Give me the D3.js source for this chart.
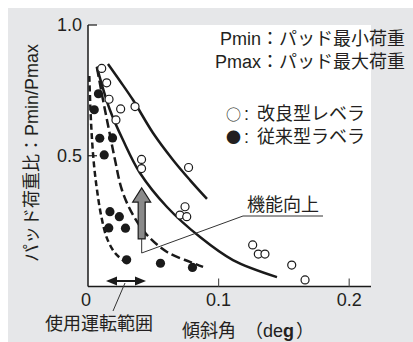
<!DOCTYPE html>
<html><head><meta charset="utf-8">
<script src="https://cdn.jsdelivr.net/npm/d3@7"></script>
<style>
body{margin:0;background:#fff;}
text{font-family:"Liberation Sans",Arial,"Noto Sans CJK JP",sans-serif;fill:#231f20;}
</style></head>
<body>
<script>
// ---- data ----
const improvedPoints = [ // 改良型レベラ (open circles) [deg, ratio]
  [0.0105,0.834],[0.0143,0.779],[0.0161,0.716],[0.0250,0.679],[0.0360,0.688],[0.0214,0.637],
  [0.0410,0.486],[0.0410,0.451],[0.0770,0.455],[0.0743,0.305],[0.0704,0.273],[0.0756,0.267],
  [0.1261,0.159],[0.1304,0.124],[0.1355,0.124],[0.1560,0.082],[0.1662,0.025]
];
const conventionalPoints = [ // 従来型ラベラ (filled circles)
  [0.0080,0.737],[0.0048,0.676],[0.0090,0.567],[0.0188,0.568],[0.0124,0.503],[0.0168,0.286],
  [0.0240,0.267],[0.0159,0.224],[0.0287,0.223],[0.0296,0.102],[0.0555,0.089],[0.0800,0.073]
];
const improvedUpper = [[0.0153,0.851],[0.0245,0.786],[0.0345,0.713],[0.0498,0.587],[0.0651,0.484],[0.0781,0.407],[0.0911,0.335]];
const improvedLower = [[0.0067,0.841],[0.0168,0.675],[0.0268,0.560],[0.0398,0.434],[0.0605,0.304],[0.0858,0.189],[0.1110,0.101],[0.1447,0.036]];
const conventionalUpper = [[0.0069,0.836],[0.0115,0.713],[0.0161,0.598],[0.0207,0.484],[0.0260,0.369],[0.0345,0.273],[0.0452,0.197],[0.0605,0.132],[0.0781,0.094],[0.0881,0.075]];
const conventionalLower = [[0.0010,0.805],[0.0019,0.675],[0.0031,0.560],[0.0046,0.465],[0.0069,0.369],[0.0100,0.273],[0.0145,0.185],[0.0207,0.128],[0.0283,0.094]];
const xTicks = [0, 0.1, 0.2];
const xTickLabels = ["0", "0.1", "0.2"];
const yTicks = [0.5, 1.0];
const yTickLabels = ["0.5", "1.0"];
const improveArrow = {x:0.0411, base:0.182, headBase:0.323, tip:0.377};
const rangeArrow = {y:0.021, x0:0.0138, x1:0.0444};

// ---- chart ----
const W=413,H=342;
const svg=d3.select("body").append("svg").attr("width",W).attr("height",H);
svg.append("rect").attr("x",8).attr("y",8).attr("width",W-8).attr("height",H-8).attr("fill","#e6e7e9");
const x=d3.scaleLinear().domain([0,0.2167]).range([88,371]);
const y=d3.scaleLinear().domain([0,1]).range([286.5,25]);
svg.append("rect").attr("x",x(0)).attr("y",y(1)).attr("width",x(0.2167)-x(0)).attr("height",y(0)-y(1)).attr("fill","#fff");

const ink="#1a1a1a";
// axes
svg.append("line").attr("x1",x(0)).attr("x2",x(0)).attr("y1",y(1)).attr("y2",y(0)).attr("stroke",ink).attr("stroke-width",1.5);
svg.append("line").attr("x1",x(0)).attr("x2",x(0.2167)).attr("y1",y(0)).attr("y2",y(0)).attr("stroke",ink).attr("stroke-width",1.5);
yTicks.forEach((v,i)=>{
  svg.append("line").attr("x1",x(0)).attr("x2",x(0)+9).attr("y1",y(v)).attr("y2",y(v)).attr("stroke",ink).attr("stroke-width",1.2);
  svg.append("text").attr("x",x(0)-6).attr("y",y(v)+6).attr("text-anchor","end").attr("font-size",18).text(yTickLabels[i]);
});
xTicks.forEach((v,i)=>{
  if(v>0) svg.append("line").attr("x1",x(v)).attr("x2",x(v)).attr("y1",y(0)).attr("y2",y(0)-8).attr("stroke","#555").attr("stroke-width",1.2);
  svg.append("text").attr("x",x(v)-(v===0?2:0)).attr("y",306).attr("text-anchor","middle").attr("font-size",18).text(xTickLabels[i]);
});

// curves
const line=d3.line().x(d=>x(d[0])).y(d=>y(d[1])).curve(d3.curveCatmullRom.alpha(0.5));
const curves=[[improvedUpper,null],[improvedLower,null],[conventionalUpper,"9,4"],[conventionalLower,"6,3.5"]];
curves.forEach(([d,dash])=>{
  const p=svg.append("path").attr("d",line(d)).attr("fill","none").attr("stroke",ink).attr("stroke-width",2.5);
  if(dash) p.attr("stroke-dasharray",dash);
});

// points
svg.selectAll(".open").data(improvedPoints).join("circle").attr("cx",d=>x(d[0])).attr("cy",d=>y(d[1])).attr("r",4).attr("fill","#fff").attr("stroke",ink).attr("stroke-width",1.2);
svg.selectAll(".fill").data(conventionalPoints).join("circle").attr("cx",d=>x(d[0])).attr("cy",d=>y(d[1])).attr("r",4.6).attr("fill",ink);

// improvement arrow
const ax=x(improveArrow.x);
svg.append("path").attr("d",`M${ax-3.5},${y(improveArrow.base)} L${ax-3.5},${y(improveArrow.headBase)} L${ax-9},${y(improveArrow.headBase)} L${ax},${y(improveArrow.tip)} L${ax+9},${y(improveArrow.headBase)} L${ax+3.5},${y(improveArrow.headBase)} L${ax+3.5},${y(improveArrow.base)} Z`)
  .attr("fill","#8a8a8a").attr("stroke",ink).attr("stroke-width",1.2);
// 機能向上 leader
svg.append("polyline").attr("points",`323,216 243,216 ${ax},253 ${ax},${y(improveArrow.base)}`).attr("fill","none").attr("stroke","#333").attr("stroke-width",1);
svg.append("text").attr("x",247).attr("y",211).attr("font-size",18).text("機能向上");

// operating range arrow
const ry=y(rangeArrow.y), rx0=x(rangeArrow.x0), rx1=x(rangeArrow.x1);
svg.append("line").attr("x1",rx0+6).attr("x2",rx1-6).attr("y1",ry).attr("y2",ry).attr("stroke",ink).attr("stroke-width",2);
svg.append("path").attr("d",`M${rx0},${ry} L${rx0+11},${ry-4.5} L${rx0+11},${ry+4.5} Z`).attr("fill",ink);
svg.append("path").attr("d",`M${rx1},${ry} L${rx1-11},${ry-4.5} L${rx1-11},${ry+4.5} Z`).attr("fill",ink);
svg.append("line").attr("x1",125).attr("y1",ry+2).attr("x2",113).attr("y2",311).attr("stroke","#333").attr("stroke-width",1);
svg.append("text").attr("x",45).attr("y",330).attr("font-size",18).text("使用運転範囲");

// annotations
svg.append("text").attr("x",405).attr("y",45).attr("text-anchor","end").attr("font-size",18).text("Pmin：パッド最小荷重");
svg.append("text").attr("x",405).attr("y",68).attr("text-anchor","end").attr("font-size",18).text("Pmax：パッド最大荷重");
const cjk='"Noto Sans CJK JP",sans-serif';
const l1=svg.append("text").attr("x",226).attr("y",120).attr("font-size",18);
l1.append("tspan").style("font-family",cjk).attr("font-size",15).text("○");
l1.append("tspan").attr("dx",3).text(":");
l1.append("tspan").attr("x",257).text("改良型レベラ");
const l2=svg.append("text").attr("x",226).attr("y",143).attr("font-size",18);
l2.append("tspan").style("font-family",cjk).attr("font-size",15).text("●");
l2.append("tspan").attr("dx",3).text(":");
l2.append("tspan").attr("x",257).text("従来型ラベラ");

// axis titles
svg.append("text").attr("transform","translate(38,153) rotate(-90)").attr("text-anchor","middle").attr("font-size",18).text("パッド荷重比：Pmin/Pmax");
const xt=svg.append("text").attr("x",182).attr("y",337).attr("font-size",18);
xt.append("tspan").text("傾斜角　（de");
xt.append("tspan").attr("font-weight","bold").text("g");
xt.append("tspan").attr("dx",2).text("）");
</script>
</body></html>
